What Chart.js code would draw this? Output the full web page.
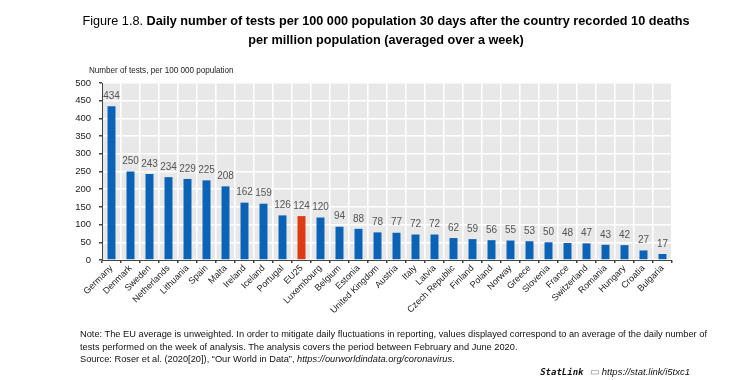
<!DOCTYPE html>
<html>
<head>
<meta charset="utf-8">
<script src="https://cdn.jsdelivr.net/npm/chart.js@4"></script>
<style>
    body { margin: 0; background: #fff; }
    #wrap { position: relative; width: 750px; height: 380px; overflow: hidden; font-family: "Liberation Sans", Arial, sans-serif; color: #000; }
    #testsChart { position: absolute; left: 0; top: 0; }
    .txt { position: absolute; white-space: nowrap; }
    #title { left: 0; width: 772px; top: 11px; text-align: center; font-size: 13px; line-height: 19px; transform: scaleX(0.975); transform-origin: 386px 0; }
    #yTitle { left: 89px; top: 65px; font-size: 9px; color: #222; transform: scaleX(0.9); transform-origin: 0 0; }
    #notes { left: 80px; top: 328px; font-size: 9.5px; line-height: 12.5px; color: #111; transform: scaleX(0.975); transform-origin: 0 0; }
    #statlink { right: 60px; top: 366px; font-size: 9.5px; color: #111; }
    #statlink b { font-family: "DejaVu Sans Mono", monospace; font-style: italic; font-size: 9px; margin-right: 4px; }
</style>
</head>
<body>
<div id="wrap">
    <canvas id="testsChart" width="750" height="380"></canvas>
    <div class="txt" id="title">Figure 1.8. <b>Daily number of tests per 100 000 population 30 days after the country recorded 10 deaths</b><br><b>per million population (averaged over a week)</b></div>
    <div class="txt" id="yTitle">Number of tests, per 100 000 population</div>
    <div class="txt" id="notes">Note: The EU average is unweighted. In order to mitigate daily fluctuations in reporting, values displayed correspond to an average of the daily number of<br>tests performed on the week of analysis. The analysis covers the period between February and June 2020.<br>Source: Roser et al. (2020[20]), “Our World in Data”, <i>https://ourworldindata.org/coronavirus</i>.</div>
    <div class="txt" id="statlink"><b>StatLink</b> <span style="color:#777">&#9645;</span> <i>https://stat.link/i5txc1</i></div>
</div>
<script>
const countries = ["Germany", "Denmark", "Sweden", "Netherlands", "Lithuania", "Spain", "Malta", "Ireland", "Iceland", "Portugal",
    "EU25", "Luxembourg", "Belgium", "Estonia", "United Kingdom", "Austria", "Italy", "Latvia", "Czech Republic", "Finland",
    "Poland", "Norway", "Greece", "Slovenia", "France", "Switzerland", "Romania", "Hungary", "Croatia", "Bulgaria"];
const testsPer100k = [434, 250, 243, 234, 229, 225, 208, 162, 159, 126,
    124, 120, 94, 88, 78, 77, 72, 72, 62, 59,
    56, 55, 53, 50, 48, 47, 43, 42, 27, 17];
const yTicks = [0, 50, 100, 150, 200, 250, 300, 350, 400, 450, 500];

const fontName = "'Liberation Sans', Arial, sans-serif";

// grey plot background
const plotBackground = {
    id: "plotBackground",
    beforeDraw(chart) {
        const { ctx, chartArea } = chart;
        ctx.save();
        ctx.fillStyle = "#e8e8e8";
        ctx.fillRect(chartArea.left, chartArea.top, chartArea.right - chartArea.left, chartArea.bottom - chartArea.top);
        ctx.restore();
    },
};

// value labels above the bars
const valueLabels = {
    id: "valueLabels",
    afterDatasetsDraw(chart) {
        const { ctx } = chart;
        const meta = chart.getDatasetMeta(0);
        ctx.save();
        ctx.fillStyle = "#555";
        ctx.font = "10px " + fontName;
        ctx.textAlign = "center";
        ctx.textBaseline = "bottom";
        meta.data.forEach((bar, i) => {
            ctx.fillText(testsPer100k[i], bar.x, bar.y - 5);
        });
        ctx.restore();
    },
};

const ctx = document.getElementById("testsChart").getContext("2d");
new Chart(ctx, {
    type: "bar",
    data: {
        labels: countries,
        datasets: [
            {
                data: testsPer100k,
                backgroundColor: countries.map((c) => (c === "EU25" ? "#dc3b14" : "#0b63b8")),
                barPercentage: 0.42,
                categoryPercentage: 1,
            },
        ],
    },
    options: {
        responsive: false,
        animation: false,
        layout: { padding: { top: 83, right: 78, left: 0, bottom: 0 } },
        plugins: {
            legend: { display: false },
            tooltip: { enabled: false },
        },
        scales: {
            x: {
                afterFit: (scale) => { scale.height = 120; },
                grid: { color: "#ffffff", lineWidth: 1.5, tickColor: "#444", tickLength: 3, offset: true },
                border: { color: "#444", width: 1 },
                ticks: {
                    autoSkip: false,
                    maxRotation: 45,
                    minRotation: 45,
                    padding: 0,
                    color: "#222",
                    font: { family: fontName, size: 9 },
                },
            },
            y: {
                min: 0,
                max: 500,
                afterFit: (scale) => { scale.width = 102; },
                afterBuildTicks: (scale) => { scale.ticks = yTicks.map((v) => ({ value: v })); },
                grid: { color: "#ffffff", lineWidth: 1.5, tickColor: "#444", tickLength: 3 },
                border: { color: "#444", width: 1 },
                ticks: {
                    padding: 8,
                    color: "#222",
                    font: { family: fontName, size: 9.5 },
                },
            },
        },
    },
    plugins: [plotBackground, valueLabels],
});
</script>
</body>
</html>
